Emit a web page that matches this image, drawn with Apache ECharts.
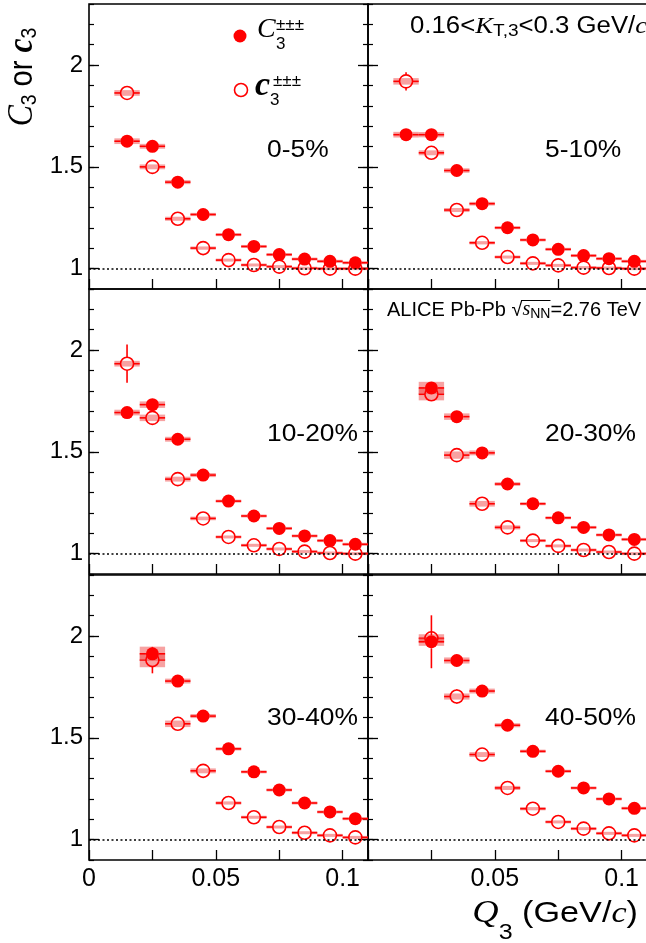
<!DOCTYPE html>
<html><head><meta charset="utf-8">
<script src="https://cdn.jsdelivr.net/npm/echarts@6/dist/echarts.min.js"></script>
<style>html,body{margin:0;padding:0;background:#fff}#c{width:646px;height:943px}</style>
</head><body><div id="c"></div>
<script>
// ---------------- data ----------------
const Q3 = [0.015,0.025,0.035,0.045,0.055,0.065,0.075,0.085,0.095,0.105];
const binHalfWidth = 0.005;
const centralityLabels = ['0-5%','5-10%','10-20%','20-30%','30-40%','40-50%'];
const firstBin = [0,0,0,1,1,1];
const yTickLabels = ['1','1.5','2'];
const xTickLabelsLeft = ['0','0.05','0.1'];
const xTickLabelsRight = ['0.05','0.1'];

const C3_0_5      = [1.626,1.601,1.425,1.266,1.167,1.109,1.069,1.047,1.036,1.029];
const c3_0_5      = [1.863,1.500,1.245,1.101,1.042,1.018,1.010,1.002,1.000,1.000];
const C3stat_0_5  = [0.010,0.008,0.006,0.004,0.003,0.003,0.002,0.002,0.002,0.002];
const c3stat_0_5  = [0.020,0.012,0.008,0.006,0.004,0.003,0.003,0.002,0.002,0.002];
const C3sys_0_5   = [0.014,0.012,0.010,0.008,0.006,0.005,0.004,0.004,0.003,0.003];
const c3sys_0_5   = [0.014,0.012,0.010,0.008,0.006,0.005,0.004,0.004,0.003,0.003];

const C3_5_10     = [1.658,1.658,1.482,1.319,1.201,1.141,1.095,1.064,1.049,1.036];
const c3_5_10     = [1.920,1.569,1.288,1.127,1.057,1.026,1.016,1.005,1.003,1.000];
const C3stat_5_10 = [0.012,0.010,0.007,0.005,0.004,0.003,0.003,0.002,0.002,0.002];
const c3stat_5_10 = [0.045,0.015,0.009,0.006,0.004,0.003,0.003,0.002,0.002,0.002];
const C3sys_5_10  = [0.014,0.013,0.011,0.009,0.007,0.005,0.004,0.004,0.003,0.003];
const c3sys_5_10  = [0.016,0.012,0.010,0.008,0.006,0.005,0.004,0.004,0.003,0.003];

const C3_10_20     = [1.693,1.732,1.562,1.386,1.258,1.185,1.124,1.087,1.064,1.046];
const c3_10_20     = [1.933,1.667,1.366,1.173,1.082,1.041,1.023,1.010,1.003,1.000];
const C3stat_10_20 = [0.015,0.012,0.008,0.006,0.004,0.003,0.003,0.002,0.002,0.002];
const c3stat_10_20 = [0.094,0.020,0.010,0.007,0.005,0.004,0.003,0.002,0.002,0.002];
const C3sys_10_20  = [0.014,0.016,0.012,0.010,0.007,0.006,0.005,0.004,0.003,0.003];
const c3sys_10_20  = [0.014,0.016,0.012,0.009,0.006,0.005,0.004,0.004,0.003,0.003];

const C3_20_30     = [1.814,1.673,1.495,1.342,1.245,1.176,1.129,1.092,1.070];
const c3_20_30     = [1.783,1.484,1.245,1.129,1.064,1.038,1.018,1.008,1.000];
const C3stat_20_30 = [0.020,0.010,0.007,0.005,0.004,0.003,0.003,0.002,0.002];
const c3stat_20_30 = [0.030,0.012,0.008,0.006,0.004,0.003,0.003,0.002,0.002];
const C3sys_20_30  = [0.030,0.016,0.012,0.009,0.007,0.005,0.005,0.004,0.004];
const c3sys_20_30  = [0.030,0.018,0.014,0.010,0.007,0.005,0.004,0.004,0.003];

const C3_30_40     = [1.913,1.779,1.607,1.446,1.333,1.244,1.180,1.136,1.103];
const c3_30_40     = [1.882,1.569,1.338,1.180,1.110,1.062,1.034,1.021,1.011];
const C3stat_30_40 = [0.030,0.012,0.008,0.006,0.005,0.004,0.003,0.003,0.002];
const c3stat_30_40 = [0.065,0.015,0.009,0.006,0.005,0.004,0.003,0.003,0.002];
const C3sys_30_40  = [0.035,0.012,0.010,0.008,0.007,0.006,0.005,0.004,0.004];
const c3sys_30_40  = [0.035,0.016,0.012,0.008,0.006,0.005,0.004,0.004,0.003];

const C3_40_50     = [1.972,1.880,1.730,1.562,1.434,1.336,1.254,1.200,1.154];
const c3_40_50     = [1.989,1.703,1.418,1.254,1.152,1.087,1.054,1.031,1.021];
const C3stat_40_50 = [0.130,0.025,0.012,0.008,0.006,0.005,0.004,0.003,0.003];
const c3stat_40_50 = [0.030,0.035,0.012,0.008,0.006,0.005,0.004,0.003,0.003];
const C3sys_40_50  = [0.020,0.015,0.012,0.010,0.008,0.007,0.006,0.005,0.004];
const c3sys_40_50  = [0.020,0.015,0.012,0.010,0.008,0.007,0.006,0.005,0.004];

const panels = [
  {C:C3_0_5,   c:c3_0_5,   Cs:C3stat_0_5,   cs:c3stat_0_5,   Cy:C3sys_0_5,   cy:c3sys_0_5},
  {C:C3_5_10,  c:c3_5_10,  Cs:C3stat_5_10,  cs:c3stat_5_10,  Cy:C3sys_5_10,  cy:c3sys_5_10},
  {C:C3_10_20, c:c3_10_20, Cs:C3stat_10_20, cs:c3stat_10_20, Cy:C3sys_10_20, cy:c3sys_10_20},
  {C:C3_20_30, c:c3_20_30, Cs:C3stat_20_30, cs:c3stat_20_30, Cy:C3sys_20_30, cy:c3sys_20_30},
  {C:C3_30_40, c:c3_30_40, Cs:C3stat_30_40, cs:c3stat_30_40, Cy:C3sys_30_40, cy:c3sys_30_40},
  {C:C3_40_50, c:c3_40_50, Cs:C3stat_40_50, cs:c3stat_40_50, Cy:C3sys_40_50, cy:c3sys_40_50}
];

// ---------------- layout ----------------
const RED = '#ff0000';
const SYS = 'rgba(240,70,70,0.5)';
const SANS = 'Liberation Sans, Arial, Helvetica, sans-serif';
const SERIF = 'Liberation Serif, Times New Roman, serif';
const colLeft = [89, 368];
const colWidth = [279, 284];           // right column frame runs past the page edge
const xMax = [0.11, 0.11 * 284 / 279]; // same scale in both columns
const rowTop = [4, 289, 575];
const gH = 285;
const R = 6.5;

const grids = [], xAxes = [], yAxes = [], series = [];
const near = (a, b) => Math.abs(a - b) < 1e-6;

function renderErr(params, api) {
  const x = api.value(0), y = api.value(1), st = api.value(2), sy = api.value(3);
  const p = api.coord([x, y]);
  const pl = api.coord([x - binHalfWidth, y]);
  const pr = api.coord([x + binHalfWidth, y]);
  const ps = api.coord([x, y + sy]);
  const pt = api.coord([x, y + st]);
  const h = Math.max(2 * (p[1] - ps[1]), 3);
  const stPx = p[1] - pt[1];
  const ls = {stroke: RED, lineWidth: 1.6};
  const ch = [
    {type:'rect', shape:{x: pl[0], y: p[1] - h/2, width: pr[0] - pl[0], height: h}, style:{fill: SYS}},
    {type:'line', shape:{x1: pl[0], y1: p[1], x2: p[0] - R, y2: p[1]}, style: ls},
    {type:'line', shape:{x1: p[0] + R, y1: p[1], x2: pr[0], y2: p[1]}, style: ls}
  ];
  if (stPx > R) {
    ch.push({type:'line', shape:{x1: p[0], y1: p[1] - stPx, x2: p[0], y2: p[1] - R}, style: ls});
    ch.push({type:'line', shape:{x1: p[0], y1: p[1] + R, x2: p[0], y2: p[1] + stPx}, style: ls});
  }
  return {type:'group', children: ch};
}

for (let g = 0; g < 6; g++) {
  const col = g % 2, row = Math.floor(g / 2);
  grids.push({left: colLeft[col], top: rowTop[row], width: colWidth[col], height: gH,
    containLabel: false, outerBoundsMode: 'none',
    show: true, borderColor: '#000', borderWidth: 1.6, backgroundColor: 'rgba(0,0,0,0)'});
  const xLabels = row === 2 ? (col === 0 ? xTickLabelsLeft : xTickLabelsRight) : [];
  xAxes.push({type:'value', gridIndex: g, min: 0, max: xMax[col], interval: 0.025, position: 'bottom',
    axisLine:{show:false}, splitLine:{show:false},
    axisTick:{inside:true, length:10, lineStyle:{color:'#000', width:1.3}},
    axisLabel:{show: row === 2, margin: 7, color:'#000', fontSize: 25, fontFamily: SANS,
      showMinLabel: true, showMaxLabel: false,
      formatter: v => { const s = xLabels.find(t => near(parseFloat(t), v)); return s || ''; }}
  });
  const base = {type:'value', gridIndex: g, min: 0.9, max: 2.3, axisLine:{show:false}, splitLine:{show:false}};
  const shortTick = {inside:true, length:5, lineStyle:{color:'#000', width:1.2}};
  const longTick = {inside:true, length:10, customValues:[1,1.5,2], lineStyle:{color:'#000', width:1.3}};
  const showRight = col === 0;
  yAxes.push(Object.assign({}, base, {position:'left', interval:0.1, axisTick: shortTick,
    axisLabel:{show: col === 0, margin: 6, color:'#000', fontSize: 24, fontFamily: SANS,
      formatter: v => { const s = yTickLabels.find(t => near(parseFloat(t), v)); return s || ''; }}}));
  yAxes.push(Object.assign({}, base, {position:'left', axisTick: longTick, axisLabel:{show:false}}));
  yAxes.push(Object.assign({}, base, {position:'right', interval:0.1, axisTick: Object.assign({show: showRight}, shortTick), axisLabel:{show:false}}));
  yAxes.push(Object.assign({}, base, {position:'right', axisTick: Object.assign({show: showRight}, longTick), axisLabel:{show:false}}));

  const P = panels[g];
  const xs = Q3.slice(firstBin[g]);
  const errData = [];
  xs.forEach((x, i) => { errData.push([x, P.c[i], P.cs[i], P.cy[i]]); errData.push([x, P.C[i], P.Cs[i], P.Cy[i]]); });
  series.push({type:'custom', xAxisIndex: g, yAxisIndex: 4*g, renderItem: renderErr, data: errData, z: 2, silent: true,
    markLine:{silent:true, symbol:['none','none'], label:{show:false},
      lineStyle:{color:'#000', type:[2,2.5], width:1.6}, data:[{yAxis:1}]}});
  series.push({type:'scatter', xAxisIndex: g, yAxisIndex: 4*g, symbol:'circle', symbolSize: 2*R, z: 3,
    itemStyle:{color: 'rgba(0,0,0,0)', borderColor: RED, borderWidth: 1.6, opacity: 1},
    data: xs.map((x, i) => [x, P.c[i]])});
  series.push({type:'scatter', xAxisIndex: g, yAxisIndex: 4*g, symbol:'circle', symbolSize: 2*R, z: 4,
    itemStyle:{color: RED, opacity: 1}, data: xs.map((x, i) => [x, P.C[i]])});
}

// ---------------- texts ----------------
const labelPos = [[267,150],[545,150],[267,434],[545,434],[267,718],[545,718]];
const graphic = [];
centralityLabels.forEach((t, i) => {
  graphic.push({type:'text', x: labelPos[i][0], y: labelPos[i][1], scaleX: 1.1,
    style:{text: t, fill:'#000', font: '24px ' + SANS, textAlign:'left', textVerticalAlign:'middle', align:'left', verticalAlign:'middle'}});
});
function txt(x, y, text, font, extra) {
  return Object.assign({type:'text', x: x, y: y,
    style:{text: text, fill:'#000', font: font, textAlign:'left', textVerticalAlign:'middle', align:'left', verticalAlign:'middle'}}, extra || {});
}
// legend
graphic.push({type:'circle', shape:{cx:240, cy:36, r:R}, style:{fill: RED}});
graphic.push(txt(257, 30, 'C', 'italic 28px ' + SERIF));
graphic.push(txt(276, 25, '±±±', '17px ' + SANS));
graphic.push(txt(276, 44, '3', '17px ' + SANS));
graphic.push({type:'circle', shape:{cx:241, cy:90, r:R}, style:{fill:'rgba(0,0,0,0)', stroke: RED, lineWidth:1.6}});
graphic.push(txt(255, 86, 'c', 'italic bold 34px ' + SERIF));
graphic.push(txt(273, 81, '±±±', '17px ' + SANS));
graphic.push(txt(270, 100, '3', '17px ' + SANS));

// y title
graphic.push({type:'text', x: 23, y: 77, rotation: Math.PI/2, scaleX: 0.88,
  style:{text:'{C|C}{s|3}{n| or }{c|c}{s|3}', textAlign:'center', textVerticalAlign:'middle', align:'center', verticalAlign:'middle',
    rich:{
      C:{fontFamily: SERIF, fontStyle:'italic', fontSize:36, lineHeight:36, fill:'#000', color:'#000'},
      s:{fontFamily: SANS, fontSize:22, lineHeight:22, verticalAlign:'bottom', fill:'#000', color:'#000'},
      n:{fontFamily: SANS, fontSize:33, lineHeight:36, fill:'#000', color:'#000'},
      c:{fontFamily: SERIF, fontStyle:'italic', fontWeight:'bold', fontSize:36, lineHeight:36, fill:'#000', color:'#000'}
    }}});
// x title
graphic.push({type:'text', x: 638, y: 914, scaleX: 1.14,
  style:{text:'{Q|Q}{s|3}{n| (GeV/}{c|c}{n|)}', textAlign:'right', textVerticalAlign:'middle', align:'right', verticalAlign:'middle',
    rich:{
      Q:{fontFamily: SERIF, fontStyle:'italic', fontSize:32, lineHeight:60, fill:'#000', color:'#000'},
      s:{fontFamily: SANS, fontSize:22, lineHeight:22, verticalAlign:'bottom', fill:'#000', color:'#000'},
      n:{fontFamily: SANS, fontSize:30, lineHeight:60, fill:'#000', color:'#000'},
      c:{fontFamily: SERIF, fontStyle:'italic', fontSize:30, lineHeight:60, fill:'#000', color:'#000'}
    }}});
// kT text
graphic.push({type:'text', x: 410, y: 27, scaleX: 1.12,
  style:{text:'{n|0.16<}{K|K}{s|T,3}{n|<0.3 GeV/}{c|c}', textAlign:'left', textVerticalAlign:'middle', align:'left', verticalAlign:'middle',
    rich:{
      n:{fontFamily: SANS, fontSize:23, lineHeight:26, fill:'#000', color:'#000'},
      K:{fontFamily: SERIF, fontStyle:'italic', fontSize:24, lineHeight:26, fill:'#000', color:'#000'},
      s:{fontFamily: SANS, fontSize:17, lineHeight:17, verticalAlign:'bottom', fill:'#000', color:'#000'},
      c:{fontFamily: SERIF, fontStyle:'italic', fontSize:24, lineHeight:26, fill:'#000', color:'#000'}
    }}});
// ALICE text, with overline above sqrt argument
const mctx = document.createElement('canvas').getContext('2d');
function tw(s, font) { mctx.font = font; return mctx.measureText(s).width; }
const aliceX = 387, aliceY = 310;
const fN = '20px Liberation Sans', fI = 'italic 20px Liberation Serif', fS = '14px Liberation Sans';
const w1 = tw('ALICE Pb-Pb ', fN), wr = tw('√', fN), wi = tw('s', fI), ws = tw('NN', fS);
graphic.push({type:'text', x: aliceX, y: aliceY,
  style:{text:'{n|ALICE Pb-Pb }{r|√}{i|s}{s|NN}{n|=2.76 TeV}', textAlign:'left', textVerticalAlign:'middle', align:'left', verticalAlign:'middle',
    rich:{
      n:{fontFamily: SANS, fontSize:20, lineHeight:22, fill:'#000', color:'#000'},
      r:{fontFamily: SANS, fontSize:20, lineHeight:22, fill:'#000', color:'#000'},
      i:{fontFamily: SERIF, fontStyle:'italic', fontSize:20, lineHeight:22, fill:'#000', color:'#000'},
      s:{fontFamily: SANS, fontSize:14, lineHeight:14, verticalAlign:'bottom', fill:'#000', color:'#000'}
    }}});
graphic.push({type:'line', shape:{x1: aliceX + w1 + wr - 1.5, y1: aliceY - 9.5, x2: aliceX + w1 + wr + wi + ws, y2: aliceY - 9.5},
  style:{stroke:'#000', lineWidth:1}});

const chart = echarts.init(document.getElementById('c'), null, {renderer:'canvas'});
chart.setOption({animation:false, backgroundColor:'#fff', grid: grids, xAxis: xAxes, yAxis: yAxes, series: series, graphic: graphic});
</script></body></html>
